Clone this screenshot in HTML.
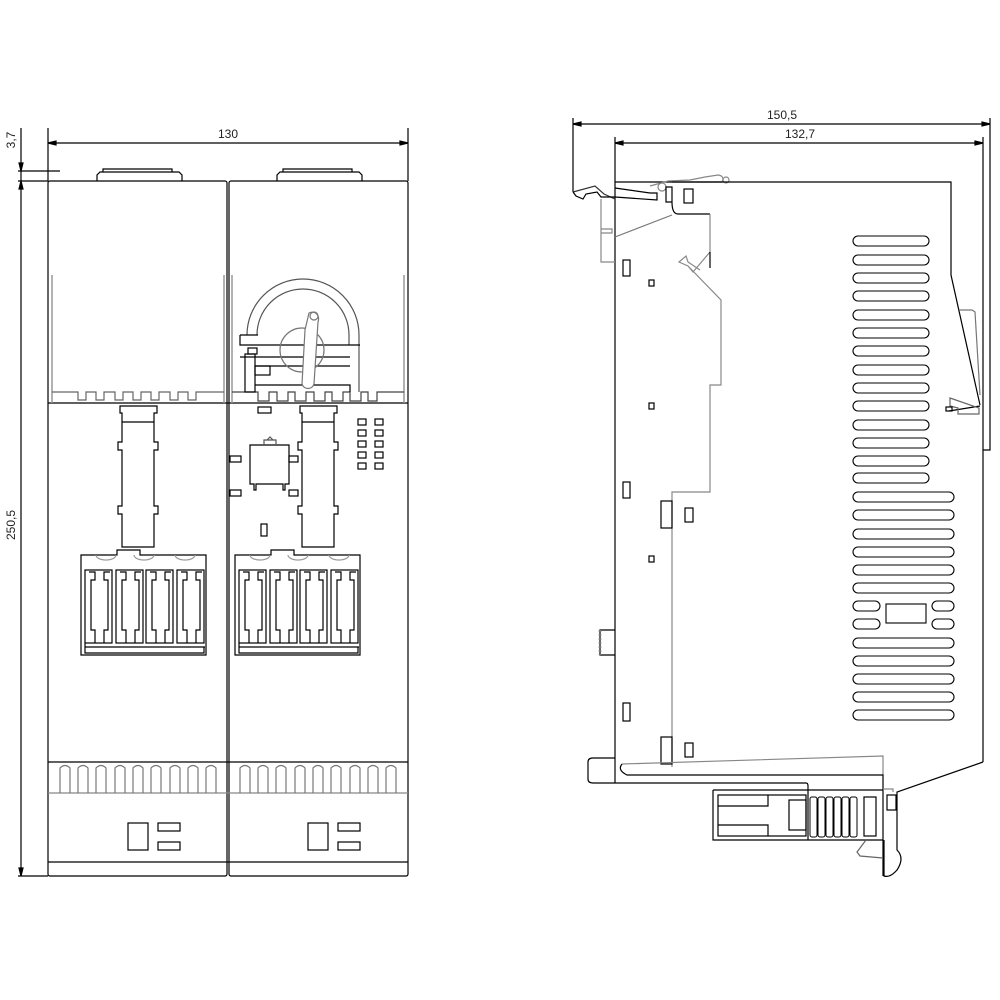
<!DOCTYPE html>
<html><head><meta charset="utf-8"><style>
html,body{margin:0;padding:0;background:#fff;width:1000px;height:1000px;overflow:hidden}
svg{display:block}
text{font-family:"Liberation Sans",sans-serif;font-size:12px;fill:#222}
</style></head><body>
<svg width="1000" height="1000" viewBox="0 0 1000 1000" xmlns="http://www.w3.org/2000/svg">
<g fill="none" stroke="#000" stroke-width="1.2">
<!-- ===== LEFT VIEW dimensions ===== -->
<line x1="48" y1="143" x2="408" y2="143"/>
<line x1="48" y1="128" x2="48" y2="181"/>
<line x1="408" y1="128" x2="408" y2="181"/>
<path d="M48 143 l8 -2 v4 z M408 143 l-8 -2 v4 z" fill="#000"/>
<line x1="21" y1="128" x2="21" y2="876"/>
<line x1="18" y1="171" x2="60" y2="171"/>
<line x1="18" y1="181" x2="48" y2="181"/>
<line x1="18" y1="876" x2="48" y2="876"/>
<path d="M21 171 l-2 -8 h4 z M21 181 l-2 8 h4 z M21 876 l-2 -8 h4 z" fill="#000"/>

<!-- modules outline -->
<rect x="48" y="181" width="179" height="695" rx="2"/>
<rect x="229" y="181" width="179" height="695" rx="2"/>
<path d="M97 181 v-6 l3 -3 h79 l3 3 v6" transform="translate(0,0)"/>
<path d="M103 172 v-3 h69 v3"/>
<path d="M277 181 v-6 l3 -3 h79 l3 3 v6"/>
<path d="M283 172 v-3 h69 v3"/>
<line x1="48" y1="403" x2="408" y2="403"/>
<line x1="48" y1="762" x2="408" y2="762"/>
<line x1="48" y1="793" x2="408" y2="793" stroke="#888"/>
<line x1="48" y1="862" x2="408" y2="862"/>
<!-- gray side lines -->
<g stroke="#999" stroke-width="1.5">
<line x1="52" y1="275" x2="52" y2="403"/>
<line x1="224" y1="275" x2="224" y2="403"/>
<line x1="232" y1="275" x2="232" y2="403"/>
<line x1="404" y1="275" x2="404" y2="403"/>
</g>
<!-- teeth module 1 -->
<path d="M52 392 H78 V400 H86 V392 H96 V400 H104 V392 H115 V400 H123 V392 H133 V400 H141 V392 H151 V400 H159 V392 H170 V400 H178 V392 H188 V400 H196 V392 H224" stroke="#666"/>
<!-- teeth module 2 -->
<path d="M232 392 H258 V401 H269 V392 H277 V401 H288 V392 H295 V401 H306 V392 H314 V401 H325 V392 H332 V401 H343 V392 H350 V401 H361 V392 H368 V401 H377 V392 H404" stroke="#444"/>

<!-- knob module 2 -->
<path d="M247 335 A56 56 0 0 1 359 335 V392" stroke="#555"/>
<path d="M257 335 A46 46 0 0 1 349 335 V345" stroke="#555"/>
<path d="M240 335 H258 M240 335 V345 H360 M258 345 H350 M240 357 H350 M255 366 H350 M255 385 H350 V392"/>
<rect x="248" y="348" width="9" height="6"/>
<rect x="245" y="354" width="10" height="38"/>
<rect x="255" y="366" width="15" height="9"/>
<circle cx="302" cy="350" r="22" stroke="#777"/>
<path d="M309 313 C316 310 320 316 318 322 L314 384 C312 390 304 390 302 384 L305 330 Z" fill="#fff" stroke="#777"/>
<circle cx="314" cy="316" r="4" stroke="#777"/>

<!-- columns -->
<path d="M120 406 H157 V413 H154 V442 H158 V450 H154 V506 H158 V514 H154 V547 H122 V514 H118 V506 H122 V450 H118 V442 H122 V413 H120 Z"/>
<line x1="122" y1="422" x2="154" y2="422"/>
<path d="M300 406 H337 V413 H334 V442 H338 V450 H334 V506 H338 V514 H334 V547 H302 V514 H298 V506 H302 V450 H298 V442 H302 V413 H300 Z"/>
<line x1="302" y1="422" x2="334" y2="422"/>

<!-- module 2 extras -->
<rect x="258" y="407" width="13" height="6"/>
<path d="M250 445 H289 V484 H285 V490 H283 V484 H256 V490 H254 V484 H250 Z"/>
<path d="M264 445 V440 H276 V445 M267 440 L270 437 L273 440" stroke="#555"/>
<rect x="230" y="456" width="11" height="6"/>
<rect x="230" y="490" width="11" height="6"/>
<rect x="289" y="456" width="9" height="6"/>
<rect x="289" y="490" width="9" height="6"/>
<rect x="261" y="524" width="6" height="12"/>
<g>
<rect x="358" y="419" width="8" height="6"/><rect x="375" y="419" width="8" height="6"/>
<rect x="358" y="430" width="8" height="6"/><rect x="375" y="430" width="8" height="6"/>
<rect x="358" y="441" width="8" height="6"/><rect x="375" y="441" width="8" height="6"/>
<rect x="358" y="452" width="8" height="6"/><rect x="375" y="452" width="8" height="6"/>
<rect x="358" y="463" width="8" height="6"/><rect x="375" y="463" width="8" height="6"/>
</g>

<!-- terminal blocks -->
<g id="tb">
<path d="M81 655 V555 H117 V550 H140 V555 H206 V655 Z"/>
<path d="M85 643 V647 H205 M85 647 V653 H204 V647"/>
<path d="M96 555 a10 5 0 0 0 20 0 M134 555 a10 5 0 0 0 20 0 M175 555 a10 5 0 0 0 20 0" stroke="#999"/>
<g>
<rect x="85" y="570" width="27" height="73"/>
<path d="M89 572 H95 V580 H91 V630 H95 V643 M110 572 H104 V580 H108 V630 H104 V643"/>
<rect x="116" y="570" width="27" height="73"/>
<path d="M120 572 H126 V580 H122 V630 H126 V643 M141 572 H135 V580 H139 V630 H135 V643"/>
<rect x="146" y="570" width="27" height="73"/>
<path d="M150 572 H156 V580 H152 V630 H156 V643 M171 572 H165 V580 H169 V630 H165 V643"/>
<rect x="177" y="570" width="27" height="73"/>
<path d="M181 572 H187 V580 H183 V630 H187 V643 M202 572 H196 V580 H200 V630 H196 V643"/>
</g>
</g>
<use href="#tb" transform="translate(154,0)"/>

<!-- rib band -->
<g stroke="#777">
<path d="M60 793 V768 q5 -5 10 0 V793 M78 793 V768 q5 -5 10 0 V793 M96 793 V768 q5 -5 10 0 V793 M115 793 V768 q5 -5 10 0 V793 M133 793 V768 q5 -5 10 0 V793 M151 793 V768 q5 -5 10 0 V793 M170 793 V768 q5 -5 10 0 V793 M188 793 V768 q5 -5 10 0 V793 M206 793 V768 q5 -5 10 0 V793"/>
<path d="M240 793 V768 q5 -5 10 0 V793 M258 793 V768 q5 -5 10 0 V793 M276 793 V768 q5 -5 10 0 V793 M295 793 V768 q5 -5 10 0 V793 M313 793 V768 q5 -5 10 0 V793 M331 793 V768 q5 -5 10 0 V793 M350 793 V768 q5 -5 10 0 V793 M368 793 V768 q5 -5 10 0 V793 M386 793 V768 q5 -5 10 0 V793"/>
</g>
<rect x="128" y="823" width="20" height="27"/>
<rect x="158" y="823" width="22" height="8"/>
<rect x="158" y="842" width="22" height="8"/>
<rect x="308" y="823" width="20" height="27"/>
<rect x="338" y="823" width="22" height="8"/>
<rect x="338" y="842" width="22" height="8"/>

<!-- ===== RIGHT VIEW ===== -->
<line x1="573" y1="124" x2="990" y2="124"/>
<line x1="615" y1="143" x2="983" y2="143"/>
<path d="M573 124 l8 -2 v4 z M990 124 l-8 -2 v4 z M615 143 l8 -2 v4 z M983 143 l-8 -2 v4 z" fill="#000"/>
<line x1="573" y1="118" x2="573" y2="192"/>
<line x1="615" y1="137" x2="615" y2="783"/>
<line x1="983" y1="137" x2="983" y2="762"/>
<path d="M990 118 V450 H983"/>
<!-- top clip -->
<path d="M573 192 L595 186 L604 194 L615 199" stroke="#333"/>
<path d="M573 192 L576 196 L583 199 L586 194 L597 192 L601 197 L615 197"/>
<path d="M601 199 V262 H615 M601 229 H612 V233 H601" stroke="#888"/>
<path d="M615 182 H722 M615 188 L650 193 H657 V200 L615 197"/>
<path d="M650 186 L668 181 L690 180 L705 177 L718 175 Q725 176 722 182" stroke="#888"/>
<circle cx="662" cy="187" r="4" stroke="#888"/>
<circle cx="726" cy="180" r="3" stroke="#888"/>
<path d="M672 182 H951 V275 L980 405"/>
<path d="M666 187 H672 V202 H666 Z M672 202 Q672 214 678 214 H710"/>
<rect x="684" y="189" width="9" height="14"/>
<path d="M615 237 L672 215" stroke="#777"/>
<path d="M710 214 V252 L693 272 L688 266 L679 262 L686 256 L688 262 L700 270 M688 266 L721 300 V385 H710 V492 H672 V767" stroke="#888"/>
<path d="M710 252 V268" stroke="#000"/>
<rect x="623" y="260" width="7" height="16"/>
<rect x="649" y="280" width="5" height="6"/>
<rect x="649" y="403" width="5" height="6"/>
<rect x="623" y="482" width="7" height="16"/>
<rect x="661" y="501" width="11" height="27"/>
<rect x="685" y="508" width="8" height="14"/>
<rect x="649" y="556" width="5" height="6"/>
<rect x="623" y="703" width="7" height="18"/>
<rect x="661" y="737" width="11" height="27"/>
<rect x="685" y="743" width="8" height="14"/>
<path d="M615 630 H600 V655 H615" />
<path d="M600 630 V655" stroke="#777" stroke-width="2.5" stroke-dasharray="2 2"/>
<!-- right side latch -->
<path d="M959 310 H972 L975 312 L980 395" stroke="#777"/>
<path d="M949 411 L980 406" />
<path d="M950 398 L979 408 V414 L958 414 V408 L950 406 Z" stroke="#666"/>
<rect x="946" y="407" width="6" height="4"/>
<!-- vents -->
<g stroke="#000" stroke-width="1.1">
<rect x="853" y="236" width="76" height="10" rx="5"/>
<rect x="853" y="255" width="76" height="10" rx="5"/>
<rect x="853" y="273" width="76" height="10" rx="5"/>
<rect x="853" y="291" width="76" height="10" rx="5"/>
<rect x="853" y="310" width="76" height="10" rx="5"/>
<rect x="853" y="328" width="76" height="10" rx="5"/>
<rect x="853" y="346" width="76" height="10" rx="5"/>
<rect x="853" y="365" width="76" height="10" rx="5"/>
<rect x="853" y="383" width="76" height="10" rx="5"/>
<rect x="853" y="401" width="76" height="10" rx="5"/>
<rect x="853" y="420" width="76" height="10" rx="5"/>
<rect x="853" y="438" width="76" height="10" rx="5"/>
<rect x="853" y="456" width="76" height="10" rx="5"/>
<rect x="853" y="473" width="76" height="10" rx="5"/>
<rect x="853" y="492" width="101" height="10" rx="5"/>
<rect x="853" y="510" width="101" height="10" rx="5"/>
<rect x="853" y="529" width="101" height="10" rx="5"/>
<rect x="853" y="547" width="101" height="10" rx="5"/>
<rect x="853" y="565" width="101" height="10" rx="5"/>
<rect x="853" y="583" width="101" height="10" rx="5"/>
<rect x="853" y="601" width="27" height="10" rx="5"/>
<rect x="853" y="619" width="27" height="10" rx="5"/>
<rect x="932" y="601" width="22" height="10" rx="5"/>
<rect x="932" y="619" width="22" height="10" rx="5"/>
<rect x="886" y="604" width="40" height="19"/>
<rect x="853" y="638" width="101" height="10" rx="5"/>
<rect x="853" y="656" width="101" height="10" rx="5"/>
<rect x="853" y="674" width="101" height="10" rx="5"/>
<rect x="853" y="692" width="101" height="10" rx="5"/>
<rect x="853" y="710" width="101" height="10" rx="5"/>
</g>
<!-- bottom -->
<path d="M983 762 L897 792 V850 Q905 858 897 870 Q890 878 884 876 V840"/>
<path d="M615 758 H593 Q588 758 588 762 V779 Q588 783 593 783 H806 Q808 783 808 786 V790"/>
<path d="M622 764 L883 756 V775" stroke="#888"/>
<path d="M622 764 Q617 770 627 775 H883 V876"/>
<path d="M713 790 H883 M713 790 V840 H883 M808 790 V840"/>
<rect x="718" y="795" width="88" height="41"/>
<path d="M718 806 H768 V795 M718 825 H768 V836"/>
<rect x="789" y="800" width="17" height="30"/>
<g stroke-width="1">
<rect x="810" y="797" width="7" height="40" rx="2"/>
<rect x="818" y="797" width="7" height="40" rx="2"/>
<rect x="826" y="797" width="7" height="40" rx="2"/>
<rect x="834" y="797" width="7" height="40" rx="2"/>
<rect x="842" y="797" width="7" height="40" rx="2"/>
<rect x="850" y="797" width="7" height="40" rx="2"/>
</g>
<rect x="864" y="797" width="12" height="39"/>
<rect x="887" y="795" width="9" height="15"/>
<path d="M883 789 H893 V792" stroke="#888"/>
<path d="M866 840 L857 852 L860 856 L883 858" stroke="#666"/>
</g>
<text x="228" y="138" text-anchor="middle">130</text>
<text x="782" y="119" text-anchor="middle">150,5</text>
<text x="800" y="138" text-anchor="middle">132,7</text>
<text transform="translate(15,140) rotate(-90)" text-anchor="middle">3,7</text>
<text transform="translate(15,525) rotate(-90)" text-anchor="middle">250,5</text>
</svg>
</body></html>
